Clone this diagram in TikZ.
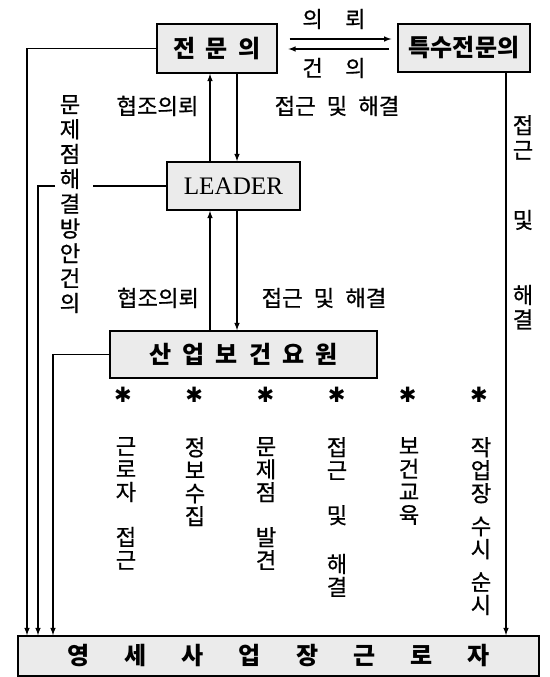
\documentclass[tikz,border=0pt]{standalone}
\usepackage{fontspec}
\setmainfont{Noto Sans CJK KR}
\newfontfamily\lblfont{Noto Sans CJK KR}[FakeBold=0.7]
\newfontfamily\leaderfont{Liberation Serif}
\newfontfamily\starfont{DejaVu Sans}

\tikzset{
  box/.style={draw, line width=1.5pt, fill=black!8, inner sep=0pt, font=\fontsize{20.5}{22}\selectfont\bfseries},
  lbl/.style={inner sep=0pt, font=\lblfont\fontsize{19}{21}\selectfont},
  col/.style={inner sep=0pt, align=center, anchor=north, font=\lblfont\fontsize{19}{19.6}\selectfont},
  link/.style={line width=1.1pt},
  ast/.style={inner sep=0pt, font=\starfont\fontsize{18}{18}\selectfont},
}

\begin{document}
\begin{tikzpicture}[x=0.03cm, y=-0.03cm]
    \useasboundingbox (0,0) rectangle (549,677);
    % boxes
    \node[box, minimum width=3.6cm, minimum height=1.47cm] (jmu) at (217,48.5) {전\hspace{8.5pt}문\hspace{8.5pt}의};
    \node[box, minimum width=3.96cm, minimum height=1.44cm] (tsp) at (464,48) {특수전문의};
    \node[box, minimum width=3.99cm, minimum height=1.44cm, font=\leaderfont\fontsize{21.5}{22}\selectfont] (leader) at (233.5,186) {LEADER};
    \node[box, minimum width=8.01cm, minimum height=1.41cm] (sanup) at (243.5,354.5) {산\hspace{9.5pt}업\hspace{9.5pt}보\hspace{9.5pt}건\hspace{9.5pt}요\hspace{9.5pt}원};
    \node[box, minimum width=15.63cm, minimum height=1.2cm] (bot) at (278.5,656) {영\hspace{30pt}세\hspace{30pt}사\hspace{30pt}업\hspace{30pt}장\hspace{30pt}근\hspace{30pt}로\hspace{30pt}자\hspace{17pt}};

    % helper coordinates
    \coordinate (ua) at (210,0);
    \coordinate (da) at (237,0);
    \coordinate (rx) at (506,0);
    \coordinate (l1) at (27,0);
    \coordinate (l2) at (38,0);
    \coordinate (l3) at (53,0);
    \coordinate (ya) at (0,39);
    \coordinate (yb) at (0,49);
    \coordinate (gr) at (93,186);
    \coordinate (gl) at (55,186);

    % referral between specialists
    \draw[link,-latex, shorten <=10pt, shorten >=5pt] (jmu.east |- ya) -- (tsp.west |- ya);
    \draw[link,-latex, shorten <=7pt, shorten >=9pt] (tsp.west |- yb) -- (jmu.east |- yb);
    \node[lbl] (uiroe) at (334,19) {의\hspace{1em}뢰};
    \node[lbl] (geonui) at (334,68) {건\hspace{1em}의};

    % vertical chain
    \draw[link,-latex] (leader.north -| ua) -- (jmu.south -| ua);
    \draw[link,-latex] (jmu.south -| da) -- (leader.north -| da);
    \draw[link,-latex] (sanup.north -| ua) -- (leader.south -| ua);
    \draw[link,-latex] (leader.south -| da) -- (sanup.north -| da);
    \node[lbl] (hj1) at (157.5,106) {협조의뢰};
    \node[lbl] (jg1) at (337,106) {접근\enspace 및\enspace 해결};
    \node[lbl] (hj2) at (158,298) {협조의뢰};
    \node[lbl] (jg2) at (324,298) {접근\enspace 및\enspace 해결};

    % lines down to the workers
    \draw[link,-latex] (jmu.west) -| (bot.north -| l1);
    \draw[link] (leader.west) -- (gr);
    \draw[link,-latex] (gl) -| (bot.north -| l2);
    \draw[link,-latex] (sanup.west) -| (bot.north -| l3);
    \draw[link,-latex] (tsp.south -| rx) -- (bot.north -| rx);
    \node[col, font=\lblfont\fontsize{19}{21.2}\selectfont] (munje) at (70,95) {문\\제\\점\\해\\결\\방\\안\\건\\의};
    \node[col, font=\lblfont\fontsize{19}{21}\selectfont] (rtxt) at (523,115) {접\\근\\[38.8pt]및\\[43pt]해\\결};

    % tasks of the health staff
    \foreach \i in {0,...,5}
      \node[ast] (ast\i) at (123+71.2*\i,395) {✱};
    \node[col] (t1) at (126,437) {근\\로\\자\\[18.8pt]접\\근};
    \node[col] (t2) at (195,437) {정\\보\\수\\집};
    \node[col] (t3) at (266,437) {문\\제\\점\\[18.8pt]발\\견};
    \node[col] (t4) at (337,437) {접\\근\\[18.8pt]및\\[22pt]해\\결};
    \node[col] (t5) at (409,437) {보\\건\\교\\육};
    \node[col] (t6) at (481,437) {작\\업\\장\\[8.5pt]수\\시\\[8.5pt]순\\시};
  \end{tikzpicture}
\end{document}
